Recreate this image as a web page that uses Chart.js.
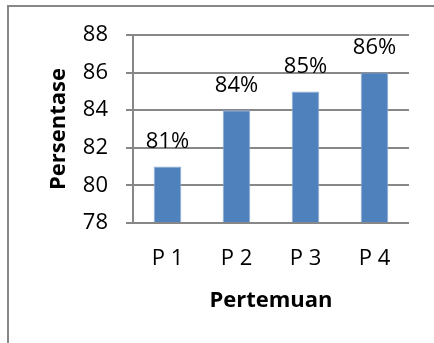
<!DOCTYPE html>
<html>
<head>
<meta charset="utf-8">
<script src="https://cdn.jsdelivr.net/npm/chart.js@4.4.1/dist/chart.umd.min.js"></script>
<style>
  html, body { margin: 0; padding: 0; background: #ffffff; }
  #c { display: block; }
</style>
</head>
<body>
<canvas id="c" width="434" height="343"></canvas>
<script>
// Meeting categories, percentage per meeting, and the value-axis ticks
const categories = ['P 1', 'P 2', 'P 3', 'P 4'];
const values = [81, 84, 85, 86];
const yTicks = [78, 80, 82, 84, 86, 88];

const GRID = '#878787';
const BAR = '#4F81BD';
const FONT = "'Open Sans', sans-serif";

// Frame lines along the left and top edge of the canvas
const framePlugin = {
  id: 'frame',
  beforeDraw(chart) {
    const ctx = chart.ctx;
    ctx.save();
    ctx.fillStyle = GRID;
    ctx.fillRect(7, 5, 2, chart.height - 5);
    ctx.fillRect(7, 5, chart.width - 7, 2);
    ctx.restore();
  }
};

// Percentage label above each bar
const valueLabels = {
  id: 'valueLabels',
  afterDatasetsDraw(chart) {
    const ctx = chart.ctx;
    const meta = chart.getDatasetMeta(0);
    ctx.save();
    ctx.font = '22px ' + FONT;
    ctx.fillStyle = '#000000';
    ctx.textAlign = 'center';
    ctx.textBaseline = 'alphabetic';
    meta.data.forEach((bar, i) => {
      ctx.fillText(values[i] + '%', bar.x, bar.y - 18.5);
    });
    ctx.restore();
  }
};

new Chart(document.getElementById('c'), {
  type: 'bar',
  data: {
    labels: categories,
    datasets: [{
      data: values,
      backgroundColor: BAR,
      borderColor: '#8EABD3',
      borderWidth: 1,
      categoryPercentage: 1,
      barPercentage: 0.4,
      base: 78
    }]
  },
  options: {
    responsive: false,
    devicePixelRatio: 1,
    animation: false,
    events: [],
    layout: { padding: { left: 0, top: 35, right: 25, bottom: 0 } },
    plugins: {
      legend: { display: false },
      tooltip: { enabled: false }
    },
    scales: {
      x: {
        grid: { display: false },
        border: { display: false },
        ticks: { color: '#000000', font: { family: FONT, size: 22 }, padding: 15 },
        title: {
          display: true,
          text: 'Pertemuan',
          color: '#000000',
          font: { family: FONT, size: 22, weight: 'bold' },
          padding: { top: 0, bottom: 29 }
        },
        afterFit(scale) { scale.height = 120; }
      },
      y: {
        min: 78,
        max: 88,
        afterBuildTicks(scale) { scale.ticks = yTicks.map(v => ({ value: v })); },
        grid: { color: GRID, lineWidth: 2, tickLength: 7, tickColor: GRID, drawTicks: true },
        border: { display: true, color: GRID, width: 2 },
        ticks: { color: '#000000', font: { family: FONT, size: 22 }, padding: 18 },
        title: {
          display: true,
          text: 'Persentase',
          color: '#000000',
          font: { family: FONT, size: 22, weight: 'bold' },
          padding: { top: 46, bottom: 0 }
        },
        afterFit(scale) { scale.width = 133; }
      }
    }
  },
  plugins: [framePlugin, valueLabels]
});
</script>
</body>
</html>
